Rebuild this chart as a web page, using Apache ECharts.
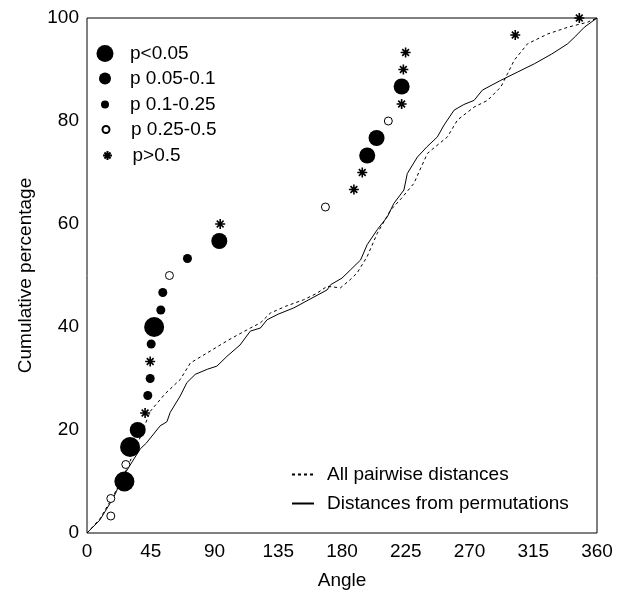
<!DOCTYPE html>
<html><head><meta charset="utf-8">
<script src="https://cdn.jsdelivr.net/npm/echarts@6/dist/echarts.min.js"></script>
<style>html,body{margin:0;padding:0;background:#fff}#c{width:620px;height:595px}</style>
</head><body><div id="c"></div>
<script>
// ---- data ----
const xTicks = [0, 45, 90, 135, 180, 225, 270, 315, 360];
const yTicks = [0, 20, 40, 60, 80, 100];
const scatterNames = ['p<0.05', 'p 0.05-0.1', 'p 0.1-0.25', 'p 0.25-0.5', 'p>0.5'];
const pLt005 = [[26.4, 10.0], [30.4, 16.7], [47.4, 40.0]];
const p005to01 = [[35.8, 20.0], [93.4, 56.7], [197.8, 73.3], [204.4, 76.7], [222.1, 86.7]];
const p01to025 = [[42.9, 26.7], [44.6, 30.0], [45.3, 36.7], [52.1, 43.3], [53.5, 46.7], [70.9, 53.3]];
const p025to05 = [[16.8, 3.3], [16.8, 6.7], [27.4, 13.3], [58.2, 50.0], [168.3, 63.3], [212.7, 80.0]];
const pGt05 = [[41.0, 23.3], [44.6, 33.3], [94.0, 60.0], [188.4, 66.7], [194.3, 70.0], [222.1, 83.3], [223.3, 90.0], [224.9, 93.3], [302.3, 96.7], [347.5, 100.0]];
const lineNames = ['All pairwise distances', 'Distances from permutations'];
const allPairwise = [[0,0],[9,2.7],[18.6,7.2],[28,12.4],[36,17.5],[44.6,23.6],[55,27],[65.8,29.8],[72.9,33.0],[85,35],[100,37.5],[115.3,39.8],[122.4,40.8],[129.4,42.7],[140,44],[153,45.3],[162,46.5],[169.5,47.9],[178.9,47.6],[185,49],[190.7,50.5],[197.8,53.7],[204.9,58.2],[214.3,62.7],[222,65],[230.8,67.9],[235,70.5],[240.3,73.7],[245,74.8],[254.4,76.9],[261.5,80.2],[273.2,82.7],[282.7,84.0],[292.1,86.6],[296.9,89.2],[301.6,91.8],[311,95.0],[325.2,96.9],[339.3,98.2],[353.4,99.2],[360,100]];
const permutations = [[0,0],[9,2.5],[18.6,6.8],[25.7,11.1],[37.5,16.3],[42,17.5],[51.6,20.8],[56.4,21.6],[58.7,23.4],[65.8,26.6],[70.5,29.2],[76.4,30.8],[85,31.8],[91.7,32.4],[98.8,34.3],[108,36.5],[115.3,39.2],[122.4,39.8],[127.1,41.4],[135,42.5],[145.9,43.7],[158,45.5],[169.5,47.2],[171.9,48.2],[180,49.5],[186,51.1],[193.1,53.0],[197.8,56.0],[204.9,58.9],[212,61.4],[216.6,64.0],[223.7,66.6],[226.1,69.8],[233.2,73.0],[240,75],[247.3,76.9],[252,79.2],[259.1,82.1],[266,83.2],[273.2,84.0],[279.1,86.0],[292.1,87.9],[303.9,89.5],[315.7,91.1],[328,93],[339.3,95.0],[345,96.5],[351,98.2],[360,100]];

// ---- chart ----
const FONT = "'Liberation Sans', Arial, sans-serif";
const FS = 19;
const CLEAR = 'rgba(0,0,0,0)';
const star = 'path://M5 0L5 10M0 5L10 5M1.6 1.6L8.4 8.4M8.4 1.6L1.6 8.4';
const legendRows = [54, 79, 105, 130, 156];
const legendSizes = [17, 12, 8, 7, 9];

const legends = scatterNames.map((n, i) => {
  const d = legendSizes[i];
  return {
    data: [n], left: 105 - d / 2, top: legendRows[i] - 10, padding: 0,
    itemWidth: d, itemHeight: d, selectedMode: false,
    textStyle: { fontFamily: FONT, fontSize: FS, color: '#000', padding: [0, 0, 0, 20 - d / 2] }
  };
});
[475, 504].forEach((cy, i) => legends.push({
  data: [lineNames[i]], left: 291, top: cy - 10, padding: 0,
  itemWidth: 22, itemHeight: 10, selectedMode: false,
  itemStyle: { color: CLEAR, borderColor: CLEAR, borderWidth: 0 },
  textStyle: { fontFamily: FONT, fontSize: FS, color: '#000', padding: [0, 0, 0, 8] }
}));

const chart = echarts.init(document.getElementById('c'), null, { renderer: 'canvas' });
chart.setOption({
  animation: false,
  backgroundColor: '#fff',
  grid: { left: 87, right: 23, top: 18, bottom: 61, show: true, borderColor: '#000', borderWidth: 1, backgroundColor: 'transparent' },
  legend: legends,
  xAxis: {
    type: 'value', min: xTicks[0], max: xTicks[xTicks.length - 1], interval: 45,
    name: 'Angle', nameLocation: 'middle', nameGap: 38,
    nameTextStyle: { fontFamily: FONT, fontSize: FS, color: '#000' },
    axisLine: { show: false }, axisTick: { show: false }, splitLine: { show: false },
    axisLabel: { margin: 9, fontFamily: FONT, fontSize: FS, color: '#000',
      formatter: v => xTicks.includes(v) ? String(v) : '' }
  },
  yAxis: {
    type: 'value', min: yTicks[0], max: yTicks[yTicks.length - 1], interval: 20,
    name: 'Cumulative percentage', nameLocation: 'middle', nameGap: 52,
    nameTextStyle: { fontFamily: FONT, fontSize: FS, color: '#000' },
    axisLine: { show: false }, axisTick: { show: false }, splitLine: { show: false },
    axisLabel: { margin: 8, fontFamily: FONT, fontSize: FS, color: '#000' }
  },
  series: [
    { name: lineNames[0], type: 'line', data: allPairwise, symbol: 'none', showSymbol: false, z: 2,
      lineStyle: { color: '#000', width: 1, type: [3, 3] }, itemStyle: { color: CLEAR, borderColor: CLEAR, borderWidth: 0 } },
    { name: lineNames[1], type: 'line', data: permutations, symbol: 'none', showSymbol: false, z: 2,
      lineStyle: { color: '#000', width: 1 }, itemStyle: { color: CLEAR, borderColor: CLEAR, borderWidth: 0 } },
    { name: scatterNames[0], type: 'scatter', data: pLt005, symbol: 'circle', symbolSize: 20, z: 3,
      itemStyle: { color: '#000', opacity: 1 } },
    { name: scatterNames[1], type: 'scatter', data: p005to01, symbol: 'circle', symbolSize: 16, z: 3,
      itemStyle: { color: '#000', opacity: 1 } },
    { name: scatterNames[2], type: 'scatter', data: p01to025, symbol: 'circle', symbolSize: 9, z: 3,
      itemStyle: { color: '#000', opacity: 1 } },
    { name: scatterNames[3], type: 'scatter', data: p025to05, symbol: 'circle', symbolSize: 8, z: 3,
      itemStyle: { color: '#fff', borderColor: '#000', borderWidth: 1, opacity: 1 } },
    { name: scatterNames[4], type: 'scatter', data: pGt05, symbol: star, symbolSize: 10, symbolKeepAspect: true, z: 3,
      itemStyle: { color: 'none', borderColor: '#000', borderWidth: 1.6, opacity: 1 } }
  ]
});
</script></body></html>
